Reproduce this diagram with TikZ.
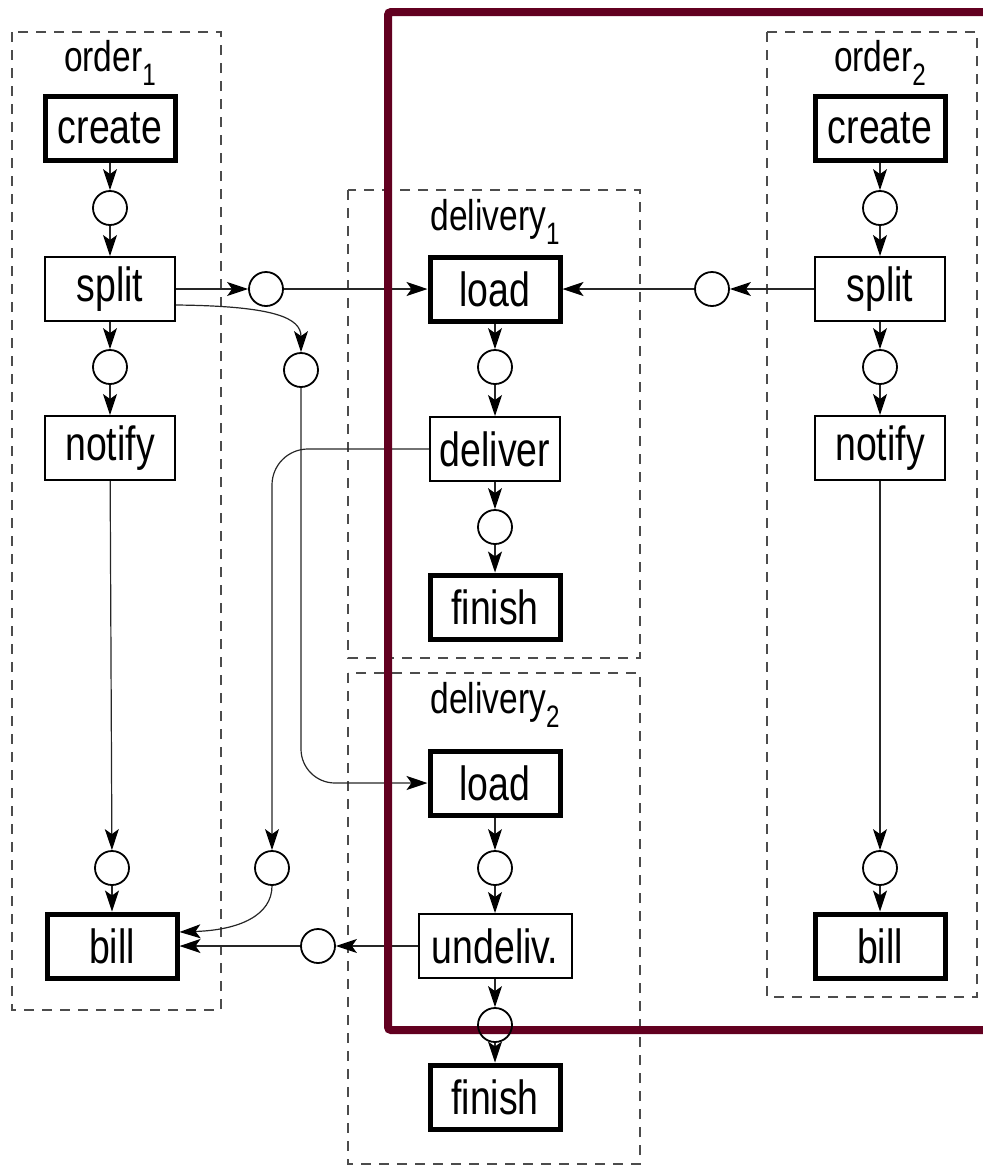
\documentclass[tikz,border=0pt]{standalone}
\usepackage{fontspec}
\setmainfont{Liberation Sans}[FakeStretch=0.78]
\usetikzlibrary{arrows.meta,calc}
\definecolor{frameRed}{RGB}{98,0,32}
\newcommand\idx[1]{\raisebox{-0.32em}{\fontsize{31}{33}\selectfont #1}}
\begin{document}
\begin{tikzpicture}[x=1pt,y=1pt,
  every node/.style={inner sep=0pt},
  task/.style={draw, line width=2pt, fill=white, minimum width=130pt, minimum height=64pt,
    font=\fontsize{48}{54}\selectfont},
  keytask/.style={task, line width=5pt},
  place/.style={circle, draw, line width=1.8pt, fill=white, minimum size=34pt},
  arr/.style={line width=1.2pt, draw=black!85, -{Stealth[length=21pt,width=14pt,inset=5pt,color=black]}},
  group/.style={draw=black!70, line width=1.6pt, dash pattern=on 10pt off 8pt},
  glabel/.style={font=\fontsize{43}{48}\selectfont},
  region/.style={draw=frameRed, line width=8pt, rounded corners=3pt}]
\useasboundingbox (0,0) rectangle (983,-1171);
\clip (0,0) rectangle (983,-1171);

% group frames
\draw[group] (12,-32) rectangle (221,-1010);
\draw[group] (348,-190) rectangle (640,-658);
\draw[group] (348,-673) rectangle (640,-1164);
\draw[group] (767,-32) rectangle (977,-997);

% order 1
\node[glabel] (o1lab) at (110,-63) {order\idx{1}};
\node[keytask] (create1) at (110,-128) {create};
\node[place] (o1p1) at (110,-208) {};
\node[task] (split1) at (110,-289) {split};
\node[place] (o1p2) at (110,-367) {};
\node[task] (notify1) at (110,-448) {notify};
\node[place] (o1p3) at (112,-868) {};
\node[keytask] (bill1) at (112,-946) {bill};

% delivery 1
\node[glabel] (d1lab) at (495,-222) {delivery\idx{1}};
\node[keytask] (load1) at (495,-289) {load};
\node[place] (d1p1) at (495,-367) {};
\node[task] (deliver) at (495,-449) {deliver};
\node[place] (d1p2) at (495,-527) {};
\node[keytask] (finish1) at (495,-607) {finish};

% delivery 2
\node[glabel] (d2lab) at (495,-705) {delivery\idx{2}};
\node[keytask] (load2) at (495,-783) {load};
\node[place] (d2p1) at (495,-868) {};
\node[task, minimum width=153pt] (undeliv) at (495,-946) {undeliv.};
\node[keytask] (finish2) at (495,-1097) {finish};

% order 2
\node[glabel] (o2lab) at (880,-63) {order\idx{2}};
\node[keytask] (create2) at (880,-128) {create};
\node[place] (o2p1) at (880,-208) {};
\node[task] (split2) at (880,-289) {split};
\node[place] (o2p2) at (880,-367) {};
\node[task] (notify2) at (880,-448) {notify};
\node[place] (o2p3) at (880,-868) {};
\node[keytask] (bill2) at (880,-946) {bill};

% places between the processes
\node[place] (s1load) at (266,-289) {};
\node[place] (s1load2) at (301,-370) {};
\node[place] (s2load) at (712,-289) {};
\node[place] (delbill) at (272,-868) {};
\node[place] (undbill) at (318,-946) {};

% order 1 flow
\draw[arr] (create1) -- (o1p1);
\draw[arr] (o1p1) -- (split1);
\draw[arr] (split1) -- (o1p2);
\draw[arr] (o1p2) -- (notify1);
\draw[arr] (notify1) -- (o1p3);
\draw[arr] (o1p3) -- (bill1);

% order 2 flow
\draw[arr] (create2) -- (o2p1);
\draw[arr] (o2p1) -- (split2);
\draw[arr] (split2) -- (o2p2);
\draw[arr] (o2p2) -- (notify2);
\draw[arr] (notify2) -- (o2p3);
\draw[arr] (o2p3) -- (bill2);

% delivery 1 flow
\draw[arr] (load1) -- (d1p1);
\draw[arr] (d1p1) -- (deliver);
\draw[arr] (deliver) -- (d1p2);
\draw[arr] (d1p2) -- (finish1);

% delivery 2 flow (lower place drawn after the frame)
\draw[arr] (load2) -- (d2p1);
\draw[arr] (d2p1) -- (undeliv);

% links between processes
\draw[arr] (split1.east) -- (s1load.west);
\draw[arr] (s1load.east) -- (load1.west);
\draw[arr] ($(split1.east)+(0,-16)$) .. controls (275,-306) and (301,-318) .. (s1load2.north);
\draw[arr, rounded corners=34pt] (s1load2.south) |- (load2.west);
\draw[arr] (split2.west) -- (s2load.east);
\draw[arr] (s2load.west) -- (load1.east);
\draw[arr, rounded corners=36pt] (deliver.west) -| (delbill.north);
\draw[arr] (delbill.south) .. controls (272,-915) and (240,-930) .. ($(bill1.east)+(0,14)$);
\draw[arr] (undeliv.west) -- (undbill.east);
\draw[arr] (undbill.west) -- (bill1.east);

% highlighted region
\draw[region] (388,-12) rectangle (1010,-1030);

% last place of delivery 2 sits on the region border
\node[place, fill=none] (d2p2) at (495,-1025) {};
\draw[arr] (undeliv) -- (d2p2);
\draw[arr] (d2p2) -- (finish2);
\end{tikzpicture}
\end{document}
